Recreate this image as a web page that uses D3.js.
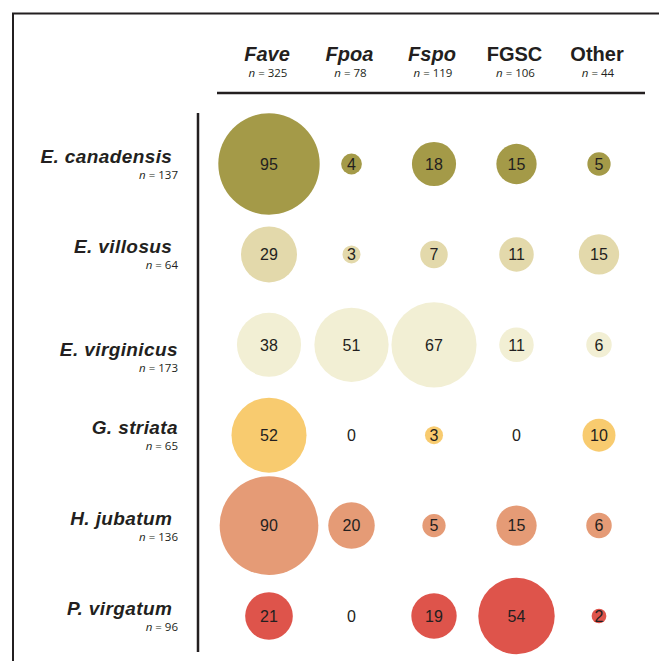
<!DOCTYPE html>
<html>
<head>
<meta charset="utf-8">
<script src="https://cdn.jsdelivr.net/npm/d3@7"></script>
<style>
  html, body { margin: 0; padding: 0; background: #fff; }
  svg { display: block; }
</style>
</head>
<body>
<div id="chart"></div>
<script>
// column groups (header) and their sample sizes
const groups = ["Fave", "Fpoa", "Fspo", "FGSC", "Other"];
const groupItalic = [true, true, true, false, false];
const groupN = [325, 78, 119, 106, 44];

// host species (rows); trailing nbsp kept as in the original labels
const hosts = ["E. canadensis\u00a0", "E. villosus\u00a0", "E. virginicus", "G. striata", "H. jubatum\u00a0", "P. virgatum\u00a0"];
const hostN = [137, 64, 173, 65, 136, 96];
const hostColors = ["#a49a48", "#e3d9ab", "#f2efd4", "#f8cb6f", "#e59b76", "#de544b"];

// counts per host (rows) x group (cols)
const counts = [
  [95, 4, 18, 15, 5],
  [29, 3, 7, 11, 15],
  [38, 51, 67, 11, 6],
  [52, 0, 3, 0, 10],
  [90, 20, 5, 15, 6],
  [21, 0, 19, 54, 2]
];

const width = 659, height = 661;
const ink = "#231f20";

const svg = d3.select("#chart")
  .append("svg")
  .attr("width", width)
  .attr("height", height);

// outer frame (runs off the right and bottom edges)
svg.append("path")
  .attr("d", `M13,${height + 5} V13.5 H${width + 5}`)
  .attr("fill", "none")
  .attr("stroke", ink)
  .attr("stroke-width", 2);

const x = d3.scalePoint().domain(groups).range([269, 599]);
const y = d3.scalePoint().domain(hosts).range([164, 616]);
const r = d3.scaleSqrt().domain([0, 95]).range([0, 50.7]);

// header
const head = svg.append("g");
groups.forEach((g, i) => {
  head.append("text")
    .attr("x", x(g) - 2)
    .attr("y", 61)
    .attr("text-anchor", "middle")
    .style("font-family", "Liberation Sans, Arial, sans-serif")
    .style("font-weight", "bold")
    .style("font-style", groupItalic[i] ? "italic" : "normal")
    .style("font-size", "20px")
    .attr("fill", ink)
    .text(g);

  const t = head.append("text")
    .attr("x", x(g) - 1)
    .attr("y", 77)
    .attr("text-anchor", "middle")
    .style("font-family", "Open Sans, sans-serif")
    .style("font-size", "11.5px")
    .attr("fill", ink);
  t.append("tspan").style("font-style", "italic").text("n");
  t.append("tspan").text(` = ${groupN[i]}`);
});

svg.append("line")
  .attr("x1", 217).attr("x2", 645)
  .attr("y1", 93).attr("y2", 93)
  .attr("stroke", ink)
  .attr("stroke-width", 2.5);

// row labels
const labelShift = { 2: 12 };
const rows = svg.append("g");
hosts.forEach((h, i) => {
  const yy = y(h) + (labelShift[i] || 0);
  rows.append("text")
    .attr("x", 178)
    .attr("y", yy - 1)
    .attr("text-anchor", "end")
    .style("font-family", "Liberation Sans, Arial, sans-serif")
    .style("font-weight", "bold")
    .style("font-style", "italic")
    .style("font-size", "19px")
    .style("letter-spacing", "0.4px")
    .style("white-space", "pre")
    .attr("fill", ink)
    .text(h);

  const t = rows.append("text")
    .attr("x", 178)
    .attr("y", yy + 15)
    .attr("text-anchor", "end")
    .style("font-family", "Open Sans, sans-serif")
    .style("font-size", "11.5px")
    .attr("fill", ink);
  t.append("tspan").style("font-style", "italic").text("n");
  t.append("tspan").text(` = ${hostN[i]}`);
});

svg.append("line")
  .attr("x1", 198).attr("x2", 198)
  .attr("y1", 113).attr("y2", 652)
  .attr("stroke", ink)
  .attr("stroke-width", 2.5);

// bubbles
const cells = hosts.flatMap((h, i) =>
  groups.map((g, j) => ({ host: h, group: g, row: i, value: counts[i][j] }))
);

const cell = svg.append("g")
  .selectAll("g")
  .data(cells)
  .enter()
  .append("g")
  .attr("transform", (d) => `translate(${x(d.group)},${y(d.host)})`);

cell.filter((d) => d.value > 0)
  .append("circle")
  .attr("r", (d) => r(d.value))
  .attr("fill", (d) => hostColors[d.row]);

cell.append("text")
  .attr("text-anchor", "middle")
  .attr("dy", "0.36em")
  .style("font-family", "Liberation Sans, Arial, sans-serif")
  .style("font-size", "16px")
  .attr("fill", ink)
  .text((d) => d.value);
</script>
</body>
</html>
